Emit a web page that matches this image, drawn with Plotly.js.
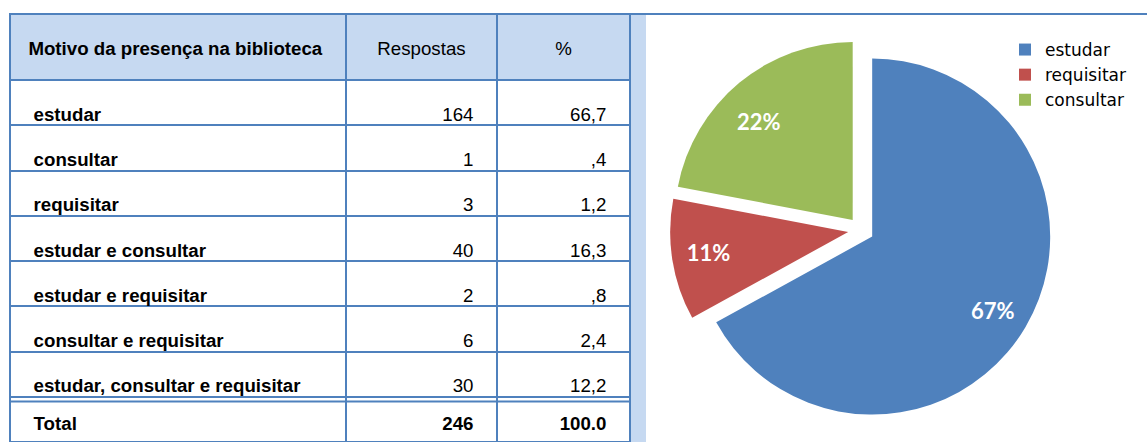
<!DOCTYPE html>
<html>
<head>
<meta charset="utf-8">
<script src="https://cdn.plot.ly/plotly-3.0.1.min.js"></script>
<style>html,body{margin:0;padding:0;background:#fff;overflow:hidden;}#chart{width:1147px;height:442px;}</style>
</head>
<body>
<div id="chart"></div>
<script>
// ---- data ----
const headerLabels = ["Motivo da presença na biblioteca", "Respostas", "%"];
const motivos = ["estudar", "consultar", "requisitar", "estudar e consultar", "estudar e requisitar", "consultar e requisitar", "estudar, consultar e requisitar"];
const respostas = ["164", "1", "3", "40", "2", "6", "30"];
const percentagens = ["66,7", ",4", "1,2", "16,3", ",8", "2,4", "12,2"];
const totalLabel = "Total";
const totalRespostas = "246";
const totalPercent = "100.0";

const pieLabels = ["estudar", "requisitar", "consultar"];
const pieValues = [67, 11, 22];
const pieColors = ["#4F81BD", "#C0504D", "#9BBB59"];

// ---- build ----
const W = 1147, H = 442;
const NB = "\u00A0", EM = "\u2003";
const FONT = "Liberation Sans, Arial, sans-serif";
const FS = 18.7;
const blue = "#4F81BD", light = "#C6D9F1", clear = "rgba(0,0,0,0)";
const lpad = s => NB + NB + NB + s;
const rpad = s => s + NB + NB + NB;
const br = s => s + "<br>";            // a <br> keeps the table from re-wrapping the text
// tiny spacer lines push the bold total row text down inside its cell
const lowered = s => NB + "<br>" + NB + "<br>" + NB + "<br>" + NB + '<br><span style="font-size:' + FS + 'px"><b>' + s + "</b></span>";

const tableTop = 14, textOffset = 15.8;
const colW = [336, 151, 133];

// grid table: lines, fills and the total row
const grid = {
  type: "table",
  domain: {x: [10 / W, 630 / W], y: [0, 1 - tableTop / H]},
  columnwidth: colW,
  header: {
    values: ["", "", ""],
    height: 66,
    fill: {color: light},
    line: {color: blue, width: 2},
    font: {family: FONT, size: FS, color: "#000"}
  },
  cells: {
    values: [
      motivos.map(() => "").concat([lowered(lpad(totalLabel))]),
      respostas.map(() => "").concat([lowered(rpad(totalRespostas))]),
      percentagens.map(() => "").concat([lowered(rpad(totalPercent))])
    ],
    align: ["left", "right", "right"],
    height: 45.25,
    fill: {color: "#ffffff"},
    line: {color: blue, width: 2},
    font: {family: FONT, size: 4, color: "#000"}
  }
};

// text table: same grid, lowered so the text sits near the bottom of each cell
const text = {
  type: "table",
  domain: {x: [10 / W, 630 / W], y: [0, 1 - (tableTop + textOffset) / H]},
  columnwidth: colW,
  header: {
    values: [br("<b>" + NB + NB + headerLabels[0] + "</b>"), br(headerLabels[1]), br(headerLabels[2])],
    align: ["left", "center", "center"],
    height: 66,
    fill: {color: clear},
    line: {color: clear, width: 0},
    font: {family: FONT, size: FS, color: "#000"}
  },
  cells: {
    values: [
      motivos.map(m => br("<b>" + lpad(m) + "</b>")),
      respostas.map(v => br(rpad(v))),
      percentagens.map(v => br(rpad(v)))
    ],
    align: ["left", "right", "right"],
    height: 45.25,
    fill: {color: clear},
    line: {color: clear, width: 0},
    font: {family: FONT, size: FS, color: "#000"}
  }
};

const pie = {
  type: "pie",
  labels: pieLabels,
  values: pieValues,
  sort: false,
  direction: "clockwise",
  rotation: 0,
  pull: [0.073, 0.073, 0.073],
  marker: {colors: pieColors},
  texttemplate: [
    NB + "<br>" + NB + "<br>" + EM + EM + EM + EM + EM + NB + "%{percent}",
    "%{percent}" + EM,
    "%{percent}" + EM + EM + EM + "<br>" + NB
  ],
  textposition: "inside",
  insidetextorientation: "horizontal",
  textfont: {family: "Lato, 'Open Sans', sans-serif", size: 22, color: "#ffffff", weight: "bold"},
  domain: {x: [670 / W, 1052 / W], y: [1 - 421 / H, 1 - 39 / H]},
  hoverinfo: "label+percent"
};

const layout = {
  width: W, height: H,
  margin: {l: 0, r: 0, t: 0, b: 0},
  paper_bgcolor: "#ffffff",
  showlegend: true,
  legend: {
    x: 1005 / W, y: 1 - 32 / H, xanchor: "left", yanchor: "top",
    font: {family: "'DejaVu Sans', sans-serif", size: 17, color: "#000"},
    bgcolor: "rgba(0,0,0,0)", tracegroupgap: 0
  },
  shapes: [
    {type: "rect", xref: "paper", yref: "paper", x0: 630 / W, x1: 646 / W, y0: 0, y1: 1 - tableTop / H, fillcolor: light, line: {width: 0}, layer: "below"},
    {type: "line", xref: "paper", yref: "paper", x0: 630 / W, x1: 1, y0: 1 - tableTop / H, y1: 1 - tableTop / H, line: {color: blue, width: 2}},
    {type: "line", xref: "paper", yref: "paper", x0: 630 / W, x1: 630 / W, y0: 0, y1: 1 - tableTop / H, line: {color: blue, width: 2}},
    {type: "line", xref: "paper", yref: "paper", x0: 10 / W, x1: 630 / W, y0: 1 - 401.5 / H, y1: 1 - 401.5 / H, line: {color: blue, width: 2}}
  ]
};

Plotly.newPlot("chart", [grid, text, pie], layout, {displayModeBar: false, staticPlot: true});
</script>
</body>
</html>
